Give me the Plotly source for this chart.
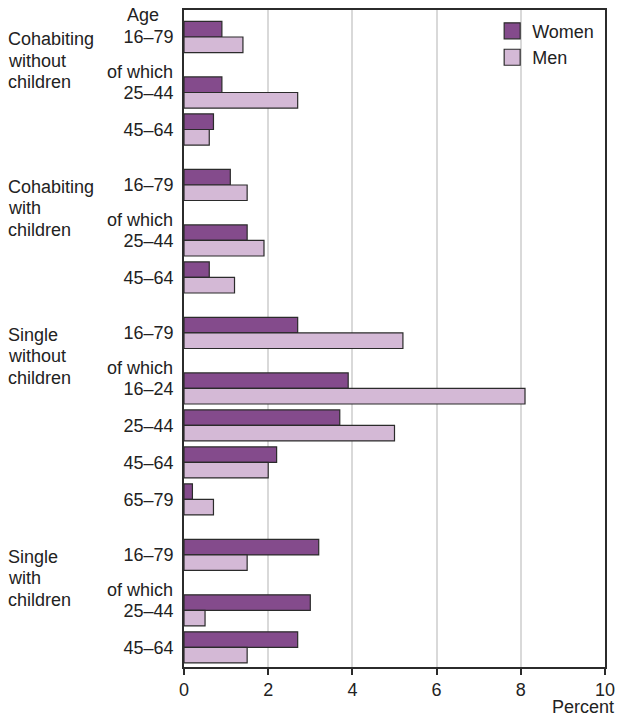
import plotly.graph_objects as go

# ---------------- data ----------------
group_labels = [
    ["Cohabiting", "without", "children"],
    ["Cohabiting", "with", "children"],
    ["Single", "without", "children"],
    ["Single", "with", "children"],
]
group_ages = [
    ["16–79", "25–44", "45–64"],
    ["16–79", "25–44", "45–64"],
    ["16–79", "16–24", "25–44", "45–64", "65–79"],
    ["16–79", "25–44", "45–64"],
]
women = [0.9, 0.9, 0.7, 1.1, 1.5, 0.6, 2.7, 3.9, 3.7, 2.2, 0.2, 3.2, 3.0, 2.7]
men = [1.4, 2.7, 0.6, 1.5, 1.9, 1.2, 5.2, 8.1, 5.0, 2.0, 0.7, 1.5, 0.5, 1.5]
x_ticks = [0, 2, 4, 6, 8, 10]

WOMEN_COLOR = "#844b8c"
MEN_COLOR = "#d4b9d6"
EDGE = "#2b2b2b"
TEXT = "#222222"
FONT = "Liberation Sans, Arial, sans-serif"
FS = 18

# ------------- row layout (slots) -------------
positions, ticktext, group_start, ofwhich_pos = [], [], [], []
pos = 0.0
for gi, ages in enumerate(group_ages):
    group_start.append(pos)
    for ai, age in enumerate(ages):
        if ai == 1:
            pos += 0.5  # room for "of which"
            ofwhich_pos.append(pos)
        positions.append(pos)
        ticktext.append(age)
        pos += 1
    pos += 0.5  # gap between groups

fig = go.Figure()
fig.add_trace(go.Bar(
    y=positions, x=women, orientation="h", name="Women",
    marker=dict(color=WOMEN_COLOR, line=dict(color=EDGE, width=1.2)),
    showlegend=False, hoverinfo="x",
))
fig.add_trace(go.Bar(
    y=positions, x=men, orientation="h", name="Men",
    marker=dict(color=MEN_COLOR, line=dict(color=EDGE, width=1.2)),
    showlegend=False, hoverinfo="x",
))
# legend proxies (larger swatches)
for name, col in (("Women", WOMEN_COLOR), ("Men", MEN_COLOR)):
    fig.add_trace(go.Scatter(
        x=[None], y=[None], mode="markers", name=name,
        marker=dict(symbol="square", size=16, color=col,
                    line=dict(color=EDGE, width=1.2)),
    ))

annotations = []
# group labels
for gi, lines in enumerate(group_labels):
    for li, line in enumerate(lines):
        annotations.append(dict(
            text=line, xref="paper", x=0, xanchor="left", xshift=-178,
            yref="y", y=group_start[gi], yanchor="middle", yshift=-2 - 21.5 * li,
            showarrow=False, font=dict(size=FS, color=TEXT, family=FONT),
        ))
# "of which"
for p in ofwhich_pos:
    annotations.append(dict(
        text="of which", xref="paper", x=0, xanchor="right", xshift=-9,
        yref="y", y=p, yanchor="middle", yshift=20,
        showarrow=False, font=dict(size=FS, color=TEXT, family=FONT),
    ))
# Age header
annotations.append(dict(
    text="Age", xref="paper", x=0, xanchor="left", xshift=-59,
    yref="paper", y=1, yanchor="middle", yshift=-5,
    showarrow=False, font=dict(size=FS, color=TEXT, family=FONT),
))
# Percent
annotations.append(dict(
    text="Percent", xref="paper", x=1, xanchor="right", xshift=11,
    yref="paper", y=0, yanchor="middle", yshift=-40,
    showarrow=False, font=dict(size=FS, color=TEXT, family=FONT),
))

fig.update_layout(
    width=617, height=716,
    margin=dict(l=184, r=12, t=10, b=49, autoexpand=False),
    paper_bgcolor="white", plot_bgcolor="white",
    barmode="group", bargap=0.16, bargroupgap=0,
    font=dict(family=FONT, size=FS, color=TEXT),
    annotations=annotations,
    legend=dict(
        x=0.732, xanchor="left", y=0.996, yanchor="top",
        font=dict(size=FS, color=TEXT, family=FONT),
        bgcolor="rgba(255,255,255,0)", tracegroupgap=0,
        itemsizing="trace",
    ),
    xaxis=dict(
        range=[0, 10], tickvals=x_ticks, ticktext=[str(v) for v in x_ticks],
        showgrid=True, gridcolor="#d9d9d9", gridwidth=1.5,
        showline=True, linecolor=EDGE, linewidth=1.5, mirror=True,
        ticks="outside", ticklen=6, tickcolor=EDGE, tickwidth=1.5,
        zeroline=False, fixedrange=True,
        tickfont=dict(size=FS, color=TEXT, family=FONT),
    ),
    yaxis=dict(
        range=[17.03, -0.73], tickvals=positions, ticktext=ticktext,
        showgrid=False, zeroline=False,
        showline=True, linecolor=EDGE, linewidth=1.5, mirror=True,
        ticks="", ticklabelstandoff=5, fixedrange=True,
        tickfont=dict(size=FS, color=TEXT, family=FONT),
    ),
)

fig.write_html(
    "out.html",
    config={"displayModeBar": False},
    post_script="document.body.style.margin='0';document.body.style.padding='0';",
)
